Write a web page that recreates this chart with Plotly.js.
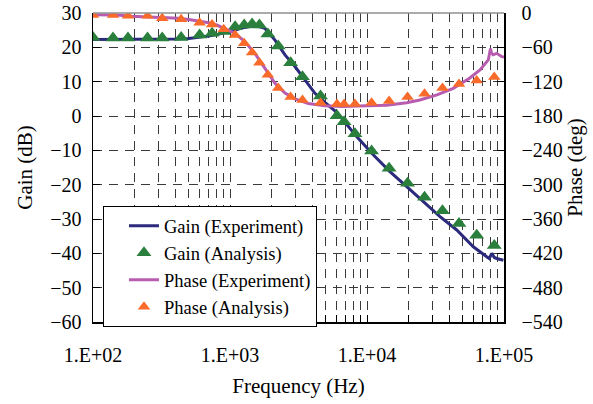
<!DOCTYPE html>
<html>
<head>
<meta charset="utf-8">
<script src="https://cdn.plot.ly/plotly-3.0.1.min.js"></script>
<style>html,body{margin:0;padding:0;background:#fff;}#chart{width:593px;height:404px;}</style>
</head>
<body>
<div id="chart"></div>
<script>
// Analysis frequencies (Hz)
const anaFreq = [100, 140, 180, 250, 320, 440, 600, 740, 900, 1090, 1270, 1450, 1640, 1890, 2250, 2770, 3380, 4580, 6040, 6800, 8170, 10800, 14500, 19760, 26300, 35560, 46950, 63200, 84920];
// Gain (Analysis), dB
const gainAna = [22.9, 22.7, 22.7, 22.7, 22.7, 22.9, 23.6, 24.1, 24.6, 26.0, 26.5, 26.8, 26.5, 23.9, 20.4, 15.5, 11.4, 5.8, 0.1, -1.7, -5.2, -10.2, -15.2, -19.6, -23.7, -27.6, -31.3, -34.7, -37.7];
// Phase (Analysis), deg
const phaseAna = [-3.5, -3.5, -5, -5, -9, -11, -17, -20, -28.5, -38.5, -53, -69, -87, -108, -131, -147, -152, -157, -159, -159, -159, -157, -154, -147, -141, -131, -124, -118, -112];

// Gain (Experiment)
const gainExpFreq = [100, 150, 200, 300, 400, 500, 600, 700, 800, 920, 1090, 1280, 1450, 1650, 1800, 2130, 2520, 2980, 3525, 4170, 4930, 5830, 6500, 8400, 11100, 14700, 19500, 25800, 34100, 45200, 59700, 74800, 78000, 81400, 85000, 88500, 99000];
const gainExp = [22.3, 22.3, 22.3, 22.3, 22.4, 22.6, 22.9, 23.3, 23.7, 24.2, 25.0, 25.8, 26.2, 26.0, 25.5, 22.1, 17.8, 14.4, 10.5, 6.6, 4.0, 1.5, -0.5, -6.0, -11.3, -16.2, -20.6, -25.0, -29.3, -33.2, -38.1, -41.0, -41.5, -40.0, -41.2, -41.5, -42.0];

// Phase (Experiment)
const phaseExpFreq = [100, 150, 190, 250, 350, 420, 500, 600, 700, 800, 920, 1090, 1280, 1520, 1800, 2130, 2520, 2980, 3730, 4930, 6530, 7950, 10000, 13900, 19500, 24300, 32400, 42600, 56000, 66800, 76800, 79700, 81000, 83300, 88500, 96500, 100000];
const phaseExp = [-3, -3.5, -5.5, -6.5, -7.5, -9, -11.5, -14, -17, -21, -27, -35.6, -50, -70.5, -96.7, -123, -140, -150, -158, -162, -163.5, -162.5, -162, -161, -156.7, -152, -143, -131.6, -114, -99.6, -82, -62, -70, -73, -70.5, -76.3, -77];

const xTickVals = [100, 1000, 10000, 100000];
const xTickText = ['1.E+02', '1.E+03', '1.E+04', '1.E+05'];

const minorVals = [];
[100, 1000, 10000].forEach(d => { for (let k = 2; k <= 9; k++) minorVals.push(d * k); });

const FONT = '"Liberation Serif", "Times New Roman", serif';
const GRID = '#3a3a3a';

const traces = [
  {x: gainExpFreq, y: gainExp, name: 'Gain (Experiment)', type: 'scatter', mode: 'lines',
   line: {color: '#2B2A7C', width: 3}, yaxis: 'y'},
  {x: anaFreq, y: gainAna, name: 'Gain (Analysis)', type: 'scatter', mode: 'markers',
   marker: {symbol: 'triangle-up', size: 13, color: '#2A7F3C'}, yaxis: 'y'},
  {x: phaseExpFreq, y: phaseExp, name: 'Phase (Experiment)', type: 'scatter', mode: 'lines',
   line: {color: '#B85CB0', width: 3}, yaxis: 'y2'},
  {x: anaFreq, y: phaseAna, name: 'Phase (Analysis)', type: 'scatter', mode: 'markers',
   marker: {symbol: 'triangle-up', size: 11, color: '#F96B2A'}, yaxis: 'y2'}
];

const layout = {
  width: 593, height: 404,
  margin: {l: 93, r: 89, t: 13, b: 82},
  paper_bgcolor: '#fff', plot_bgcolor: '#fff',
  font: {family: FONT, size: 20, color: '#000'},
  showlegend: true,
  legend: {
    x: 0.0243, y: 0.375, xanchor: 'left', yanchor: 'top',
    bgcolor: '#fff', bordercolor: '#000', borderwidth: 1,
    font: {family: FONT, size: 18.5, color: '#000'},
    traceorder: 'normal', indentation: 20,
    entrywidth: 178, entrywidthmode: 'pixels'
  },
  xaxis: {
    type: 'log', range: [2, 5],
    tickvals: xTickVals, ticktext: xTickText,
    ticks: 'inside', ticklen: 7, tickcolor: '#000',
    showline: true, linecolor: '#000', linewidth: 1.5,
    showgrid: true, gridcolor: GRID, griddash: '9px,7px', gridwidth: 1,
    zeroline: false,
    ticklabelstandoff: 14,
    tickfont: {family: FONT, size: 20, color: '#000'},
    title: {text: 'Frequency (Hz)', font: {family: FONT, size: 21, color: '#000'}, standoff: 14},
    minor: {tickvals: minorVals, ticks: 'inside', ticklen: 7, tickcolor: '#000',
            showgrid: true, gridcolor: GRID, griddash: '9px,7px', gridwidth: 1}
  },
  yaxis: {
    range: [-60, 30], dtick: 10, tick0: 0,
    ticks: 'inside', ticklen: 7, tickcolor: '#000',
    showline: true, linecolor: '#000', linewidth: 1.5,
    showgrid: true, gridcolor: GRID, griddash: '9px,7px', gridwidth: 1,
    zeroline: false,
    ticklabelstandoff: 6,
    tickfont: {family: FONT, size: 20, color: '#000'},
    title: {text: 'Gain (dB)', font: {family: FONT, size: 21, color: '#000'}, standoff: 12}
  },
  yaxis2: {
    range: [-540, 0], dtick: 60, tick0: 0,
    overlaying: 'y', side: 'right',
    ticks: 'inside', ticklen: 7, tickcolor: '#000',
    showline: true, linecolor: '#000', linewidth: 1.5,
    showgrid: false, zeroline: false,
    ticklabelstandoff: 12,
    tickfont: {family: FONT, size: 20, color: '#000'},
    title: {text: 'Phase (deg)', font: {family: FONT, size: 21, color: '#000'}, standoff: 2}
  },
  shapes: [
    {type: 'line', xref: 'paper', yref: 'paper', x0: 0, x1: 1, y0: 1, y1: 1,
     line: {color: '#909090', width: 1.5}}
  ]
};

Plotly.newPlot('chart', traces, layout, {staticPlot: true, displayModeBar: false});
</script>
</body>
</html>
